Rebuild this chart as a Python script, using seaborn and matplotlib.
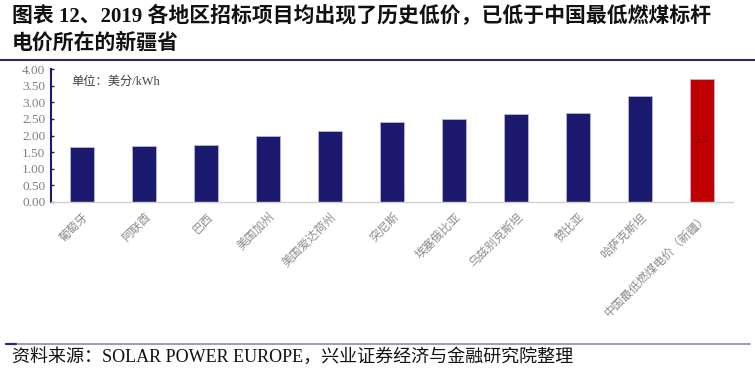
import matplotlib
matplotlib.use("Agg")
import matplotlib.pyplot as plt
import seaborn as sns
import pandas as pd

categories = ["葡萄牙", "阿联酋", "巴西", "美国加州", "美国爱达荷州", "突尼斯",
              "埃塞俄比亚", "乌兹别克斯坦", "赞比亚", "哈萨克斯坦", "中国最低燃煤电价（新疆）"]
values = [1.65, 1.69, 1.72, 2.00, 2.15, 2.42, 2.50, 2.65, 2.68, 3.20, 3.70]
bar_colors = ["#1b1a6e"] * 10 + ["#c00000"]
yticks = [0.0, 0.5, 1.0, 1.5, 2.0, 2.5, 3.0, 3.5, 4.0]
title_line1 = "图表 12、2019 各地区招标项目均出现了历史低价，已低于中国最低燃煤标杆"
title_line2 = "电价所在的新疆省"
unit_text = "单位：美分/kWh"
source_text = "资料来源：SOLAR POWER EUROPE，兴业证券经济与金融研究院整理"
label_value = "3.7"

sns.set_theme(style="white")
plt.rcParams['font.family'] = ['Liberation Serif', 'Noto Sans CJK SC', 'DejaVu Sans']

df = pd.DataFrame({"cat": categories, "val": values})

fig = plt.figure(figsize=(7.55, 3.75), dpi=100)
ax = fig.add_axes([51 / 755, 1 - 202 / 375, (733 - 51) / 755, (202 - 69) / 375])

sns.barplot(data=df, x="cat", y="val", hue="cat", palette=bar_colors, legend=False,
            width=0.4, ax=ax, edgecolor="#b8b8d8", linewidth=0.6, saturation=1)

ax.set_xlim(-0.5, len(categories) - 0.5)
ax.set_ylim(0, 4)
ax.set_yticks(yticks)
ax.set_yticklabels([f"{t:.2f}" for t in yticks], fontsize=9.5, color="#808080",
                   family=['Liberation Serif'])
ax.set_xticks(range(len(categories)))
ax.set_xticklabels(categories, rotation=45, ha="right", rotation_mode="anchor",
                   fontsize=8.5, color="#8c8c8c", family=['Noto Sans CJK SC'])
ax.tick_params(axis="x", length=0, pad=6)
ax.tick_params(axis="y", direction="in", length=2.5, width=1, color="#1b1a6e", pad=4, left=True)
ax.set_xlabel("")
ax.set_ylabel("")

for s in ["top", "right"]:
    ax.spines[s].set_visible(False)
ax.spines["left"].set_color("#1b1a6e")
ax.spines["left"].set_linewidth(1.5)
ax.spines["bottom"].set_color("#d0d0d0")
ax.spines["bottom"].set_linewidth(1)

ax.text(0.03, 0.9, unit_text, transform=ax.transAxes, fontsize=8.8, color="#404040",
        ha="left", va="center")

# value label on last bar
last = len(categories) - 1
ax.text(last, values[last] / 2, label_value, ha="center", va="center", fontsize=7,
        color="#7a0000", family=['Liberation Serif'])

# title
fig.text(12 / 755, 1 - 17 / 375, title_line1, fontsize=15, fontweight="bold",
         color="#111111", ha="left", va="center")
fig.text(12 / 755, 1 - 44 / 375, title_line2, fontsize=15, fontweight="bold",
         color="#111111", ha="left", va="center")
# separator lines
fig.add_artist(plt.Line2D([0, 1], [1 - 59.5 / 375, 1 - 59.5 / 375], color="#2b2b6b", lw=1.5))
fig.add_artist(plt.Line2D([6 / 755, 750 / 755], [1 - 344 / 375, 1 - 344 / 375], color="#8a8aa8", lw=1.2))
fig.add_artist(plt.Line2D([6 / 755, 16 / 755], [1 - 344 / 375, 1 - 344 / 375], color="#2b2b6b", lw=1.6))
fig.text(12 / 755, 1 - 357 / 375, source_text, fontsize=13, color="#111111",
         ha="left", va="center")

fig.savefig("out.png", dpi=100)
